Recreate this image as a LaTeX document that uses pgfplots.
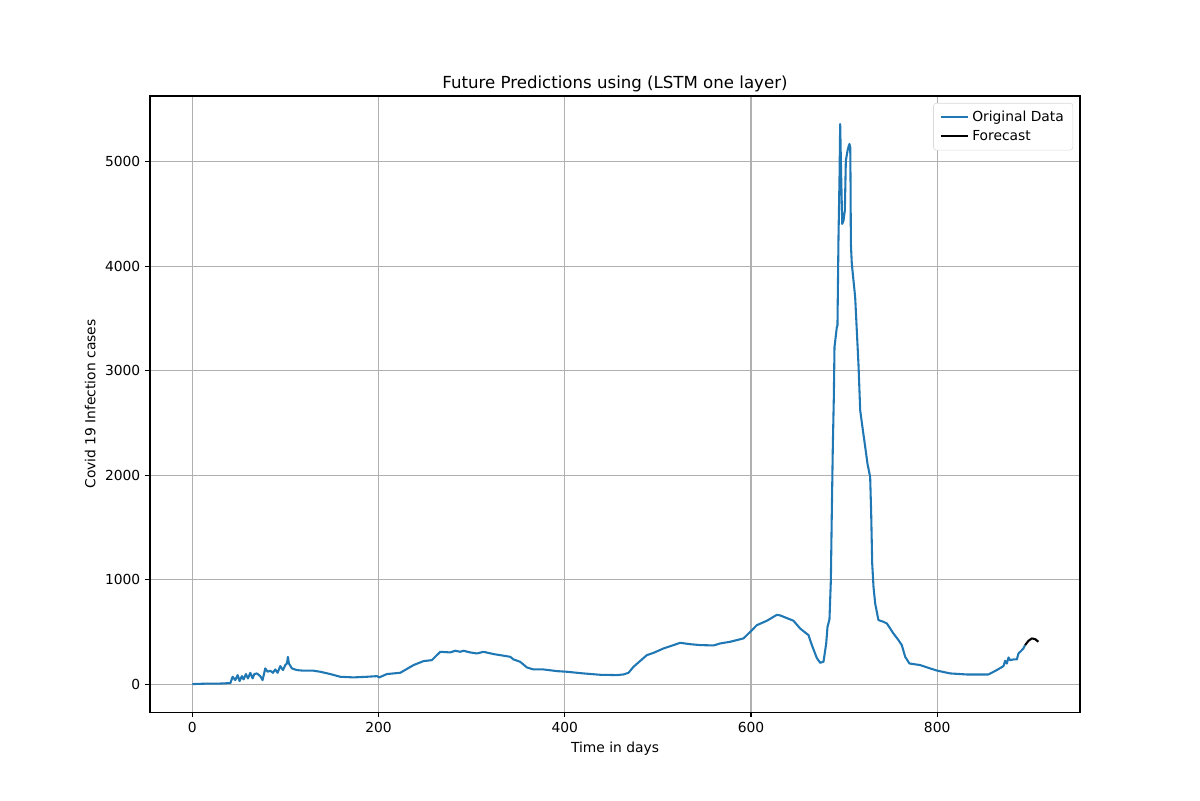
\documentclass[border=0pt]{standalone}
\usepackage{fontspec}
\setmainfont{DejaVu Sans}
\usepackage{pgfplots}
\pgfplotsset{compat=1.18}
\definecolor{mplblue}{RGB}{31,119,180}
\definecolor{gridgray}{RGB}{176,176,176}
\begin{document}
\begin{tikzpicture}[x=1pt,y=1pt]
\path[use as bounding box] (-108.4,-63.6) rectangle (758.8,514.6);
\begin{axis}[
  at={(0,0)}, anchor=south west,
  scale only axis,
  width=672.1pt, height=445.2pt,
  xmin=-45.4, xmax=953.4,
  ymin=-268, ymax=5628,
  xtick={0,200,400,600,800},
  ytick={0,1000,2000,3000,4000,5000},
  scaled y ticks=false,
  /pgf/number format/assume math mode=true,
  /pgf/number format/1000 sep={},
  tick label style={font=\fontsize{10}{12}\selectfont},
  label style={font=\fontsize{10}{12}\selectfont},
  title style={font=\fontsize{12}{14}\selectfont, yshift=-6.5pt},
  title={Future Predictions using (LSTM one layer)},
  xlabel={Time in days},
  ylabel={Covid 19 Infection cases},
  grid=major,
  major grid style={gridgray, line width=0.8pt},
  axis line style={line width=0.8pt},
  tick align=outside,
  major tick length=3.5pt,
  every tick/.style={black, line width=0.8pt},
  xtick pos=bottom, ytick pos=left,
  legend style={at={(1,1)}, anchor=north east, xshift=-5pt, yshift=-5pt,
    draw=gray!30, rounded corners=2pt, font=\fontsize{10}{12}\selectfont,
    row sep=1pt, inner xsep=4.5pt, inner ysep=3.5pt},
  legend cell align=left,
  legend image code/.code={\draw[#1] (0pt,0pt) -- (20pt,0pt);},
]
\addplot[mplblue, line width=1.5pt, line join=round] coordinates {
(0,0) (10,3) (20,5) (30,5) (41,10) (43.3,70) (46.2,38) (48.7,86) (50.8,29)
(53.3,76) (55.1,45) (57.6,96) (59.8,54) (62.3,108) (64.8,54) (66.6,96)
(69.4,102) (73,76) (75.5,38) (78.4,150) (80.9,118) (83.8,128) (86.6,108)
(89.1,140) (91.6,108) (94.5,172) (97.4,134) (99.9,182) (101.7,197)
(102.7,261) (103.8,197) (107,150) (112.4,134) (119.5,128) (130.3,128)
(137.4,118) (148.2,96) (158.9,70) (173.2,64) (187.6,70) (198.3,76)
(200.8,64) (209,96) (223.3,108) (230.5,145) (237.7,182) (248.4,220)
(257.3,229) (266.3,309) (277,303) (282.4,319) (287.8,309) (291.3,319)
(298.5,303) (305.7,293) (312.8,309) (323.6,287) (330.7,277) (341.5,261)
(345,236) (352.2,213) (359.4,159) (366.5,140) (377.2,140) (391.6,124)
(402.3,118) (420.2,102) (438.1,89) (456,86) (463.1,92) (468.5,108)
(473.9,166) (488.2,277) (495.4,299) (506.1,341) (516.8,373) (524,395)
(534.7,382) (545.5,373) (560,370) (567,389) (577.7,405) (592,437)
(601,516) (606.3,564) (617.1,606) (627.8,663) (631.4,657) (645.7,606)
(652.8,532) (661.8,468) (665.4,373) (670.7,250) (674.3,204) (677.9,214)
(680.8,389) (682.2,548) (684.3,620) (685.8,994) (686.8,1632) (687.9,2269)
(689,2750) (689.7,3225) (692.2,3416) (692.9,3432) (694,4277) (695.1,4850)
(695.8,5360) (696.9,4850) (698,4404) (699.4,4436) (700.8,4532) (701.9,5010)
(703.7,5105) (705.1,5153) (705.8,5169) (706.6,5137) (706.9,4850)
(707.3,4213) (708.3,4022) (711.9,3703) (715.5,3050) (717.3,2620)
(720.2,2428) (722.7,2269) (725.1,2110) (728,1982) (729.1,1632)
(730.2,1154) (731.6,930) (733.4,771) (736.9,612) (742.3,596) (745.9,580)
(749.5,532) (753,484) (758.4,421) (762,373) (765.6,261) (770.2,197)
(781.7,182) (792.4,150) (800.3,128) (813.9,102) (831.8,92) (855,92)
(864,134) (871.2,172) (873,223) (874.8,197) (876.6,255) (878.3,229)
(881.9,236) (885.5,236) (887.3,293) (890.9,325) (892.6,341) (894.4,373)
};
\addlegendentry{Original Data}
\addplot[black, line width=1.5pt, line join=round] coordinates {
(894.4,373) (898,414) (901.6,437) (905.2,430) (908.7,405)
};
\addlegendentry{Forecast}
\end{axis}
\end{tikzpicture}
\end{document}
